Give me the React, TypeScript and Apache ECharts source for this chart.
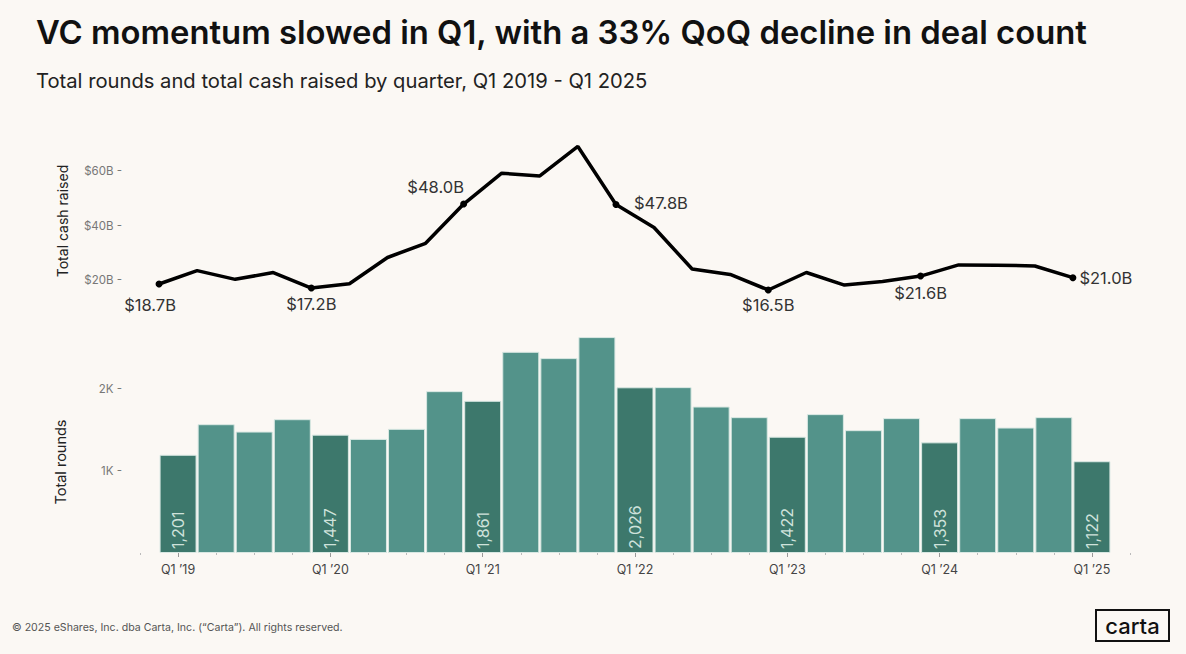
import React, { useEffect, useRef } from "react";
import * as echarts from "echarts";

const quarters = [
  "Q1 ’19", "Q2 ’19", "Q3 ’19", "Q4 ’19",
  "Q1 ’20", "Q2 ’20", "Q3 ’20", "Q4 ’20",
  "Q1 ’21", "Q2 ’21", "Q3 ’21", "Q4 ’21",
  "Q1 ’22", "Q2 ’22", "Q3 ’22", "Q4 ’22",
  "Q1 ’23", "Q2 ’23", "Q3 ’23", "Q4 ’23",
  "Q1 ’24", "Q2 ’24", "Q3 ’24", "Q4 ’24",
  "Q1 ’25",
];
const totalRounds = [
  1201, 1575, 1485, 1636,
  1447, 1395, 1518, 1979,
  1861, 2460, 2383, 2640,
  2026, 2028, 1791, 1661,
  1422, 1698, 1502, 1649,
  1353, 1649, 1534, 1661,
  1122,
];
const totalCashB = [
  18.7, 23.6, 20.4, 22.9,
  17.2, 18.8, 28.4, 33.6,
  48.0, 59.3, 58.3, 69.1,
  47.8, 39.4, 24.2, 22.2,
  16.5, 22.9, 18.3, 19.6,
  21.6, 25.7, 25.6, 25.3,
  21.0,
];
const cashTicks = [20, 40, 60];
const roundTicks = [1000, 2000];

const BG = "#fbf8f4";
const DARK = "#3d786c";
const LIGHT = "#53938a";
const FONT = "Inter, 'Noto Sans', sans-serif";

// label offsets for the annotated (Q1) points on the line
const labelOffsets: Record<number, [number, number]> = {
  0: [-9, 21],
  4: [0, 16],
  8: [-28, -17],
  12: [45, -2],
  16: [0, 15],
  20: [0, 17],
  24: [33, 0],
};

export default function App() {
  const ref = useRef<HTMLDivElement>(null);
  useEffect(() => {
    document.body.style.margin = "0";
    const chart = echarts.init(ref.current!, null, { renderer: "svg" });
    const isQ1 = (i: number) => i % 4 === 0;
    const q1Positions = quarters.map((_, i) => i).filter(isQ1);
    const allPositions: number[] = [];
    for (let i = -1; i <= quarters.length; i++) allPositions.push(i);

    const lineData = totalCashB.map((v, i) => {
      const off = labelOffsets[i];
      if (!off) return { value: [i - 0.5, v], symbol: "none" };
      return {
        value: [i - 0.5, v],
        symbol: "circle",
        symbolSize: 7,
        label: {
          show: true,
          position: "inside",
          offset: off,
          formatter: `$${v.toFixed(1)}B`,
          fontSize: 16.5,
          color: "#333",
          fontFamily: FONT,
        },
      };
    });

    const barData = totalRounds.map((v, i) => ({
      value: [i, v],
      itemStyle: { color: isQ1(i) ? DARK : LIGHT },
      label: { show: isQ1(i) },
    }));

    const xBase = {
      type: "value",
      min: -1,
      max: quarters.length,
      interval: 1,
      position: "bottom",
      splitLine: { show: false },
      axisLine: { show: false },
    };

    const yBase = {
      type: "value",
      min: 0,
      offset: 18,
      splitLine: { show: false },
      axisLine: { show: false },
      axisTick: { show: false },
    };

    chart.setOption({
      animation: false,
      backgroundColor: BG,
      grid: [
        { left: 140, width: 990, top: 144, height: 191 },
        { left: 140, width: 990, top: 324, height: 229 },
      ],
      xAxis: [
        {
          ...xBase,
          gridIndex: 0,
          axisTick: { show: false },
          axisLabel: { show: false },
        },
        {
          ...xBase,
          gridIndex: 1,
          axisTick: {
            show: true,
            length: 2,
            lineStyle: { color: "#bbb", width: 1 },
            customValues: allPositions,
          },
          axisLabel: {
            show: true,
            customValues: q1Positions,
            formatter: (v: number) => quarters[Math.round(v)] ?? "",
            color: "#444",
            fontSize: 12.5,
            fontFamily: FONT,
            margin: 10,
          },
        },
        {
          ...xBase,
          gridIndex: 1,
          axisTick: {
            show: true,
            length: 4,
            lineStyle: { color: "#999", width: 1 },
            customValues: q1Positions,
          },
          axisLabel: { show: false },
        },
      ],
      yAxis: [
        {
          ...yBase,
          gridIndex: 0,
          max: 70,
          axisLabel: {
            customValues: cashTicks,
            formatter: (v: number) => `$${v}B -`,
            color: "#777",
            fontSize: 11.5,
            fontFamily: FONT,
            margin: 0,
          },
        },
        {
          ...yBase,
          gridIndex: 1,
          max: 2800,
          axisLabel: {
            customValues: roundTicks,
            formatter: (v: number) => `${v / 1000}K -`,
            color: "#777",
            fontSize: 11.5,
            fontFamily: FONT,
            margin: 0,
          },
        },
      ],
      series: [
        {
          type: "line",
          xAxisIndex: 0,
          yAxisIndex: 0,
          data: lineData,
          lineStyle: { color: "#000", width: 3.5 },
          itemStyle: { color: "#000" },
          z: 5,
        },
        {
          type: "bar",
          xAxisIndex: 1,
          yAxisIndex: 1,
          data: barData,
          barWidth: 37,
          itemStyle: { borderColor: "#d9e8e3", borderWidth: 1 },
          label: {
            position: "insideBottom",
            rotate: 90,
            align: "left",
            verticalAlign: "middle",
            distance: 4,
            formatter: (p: any) => p.value[1].toLocaleString("en-US"),
            color: "#cfe2db",
            fontSize: 16,
            fontFamily: FONT,
          },
        },
      ],
      graphic: [
        {
          type: "text",
          x: 36,
          y: 32,
          style: {
            text: "VC momentum slowed in Q1, with a 33% QoQ decline in deal count",
            font: `600 32.8px ${FONT}`,
            fill: "#111",
            verticalAlign: "middle",
          },
        },
        {
          type: "text",
          x: 36,
          y: 80,
          style: {
            text: "Total rounds and total cash raised by quarter, Q1 2019 - Q1 2025",
            font: `400 20.2px ${FONT}`,
            fill: "#222",
            verticalAlign: "middle",
          },
        },
        {
          type: "text",
          x: 62,
          y: 221,
          rotation: Math.PI / 2,
          style: {
            text: "Total cash raised",
            font: `400 14px ${FONT}`,
            fill: "#222",
            align: "center",
            verticalAlign: "middle",
          },
        },
        {
          type: "text",
          x: 60,
          y: 462,
          rotation: Math.PI / 2,
          style: {
            text: "Total rounds",
            font: `400 14.5px ${FONT}`,
            fill: "#222",
            align: "center",
            verticalAlign: "middle",
          },
        },
        {
          type: "text",
          x: 12,
          y: 627,
          style: {
            text: "© 2025 eShares, Inc. dba Carta, Inc. (“Carta”). All rights reserved.",
            font: `400 10.6px ${FONT}`,
            fill: "#555",
            verticalAlign: "middle",
          },
        },
        {
          type: "rect",
          shape: { x: 1096, y: 610, width: 73, height: 31 },
          style: { fill: "none", stroke: "#111", lineWidth: 2 },
        },
        {
          type: "text",
          x: 1132.5,
          y: 626,
          style: {
            text: "carta",
            font: `500 22px ${FONT}`,
            fill: "#111",
            align: "center",
            verticalAlign: "middle",
          },
        },
      ],
    });
    return () => chart.dispose();
  }, []);
  return (
    <div
      ref={ref}
      style={{ position: "fixed", left: 0, top: 0, width: 1186, height: 654, background: BG }}
    />
  );
}
